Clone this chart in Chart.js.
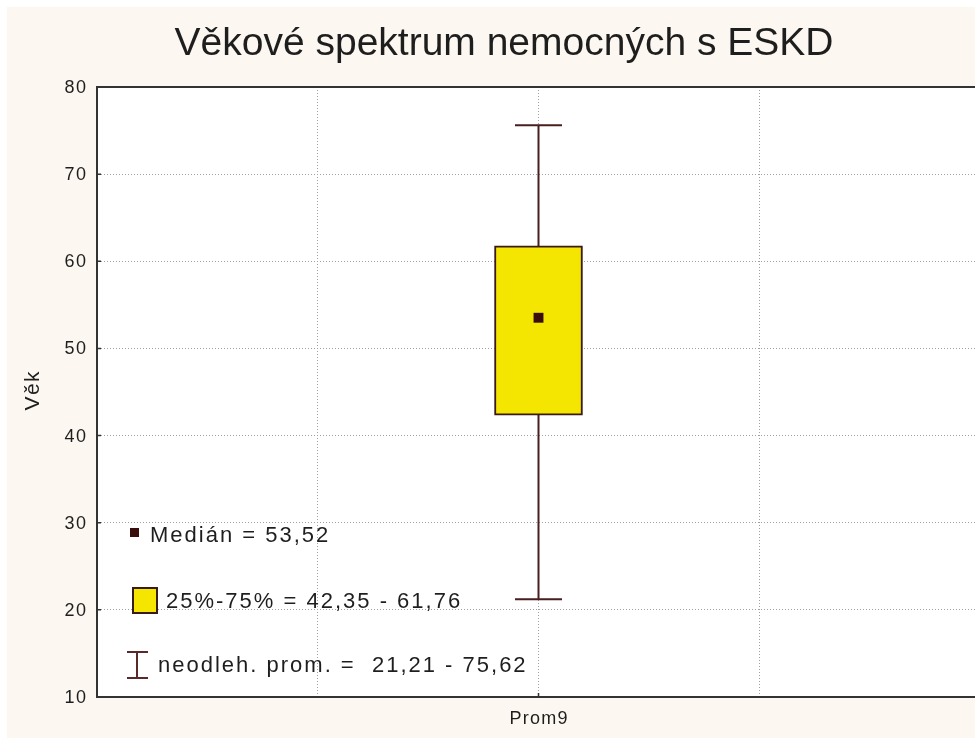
<!DOCTYPE html>
<html>
<head>
<meta charset="utf-8">
<title>Věkové spektrum nemocných s ESKD</title>
<script src="https://cdn.jsdelivr.net/npm/chart.js@4"></script>
<style>
  html, body { margin: 0; padding: 0; background: #fff; overflow: hidden; }
  canvas { display: block; }
</style>
</head>
<body>
<canvas id="boxChart" width="980" height="738"></canvas>
<script>
// statistiky věku (roky)
var categories = ['', '', 'Prom9', '', ''];
var medians    = [null, null, 53.52, null, null];
var q1         = [null, null, 42.35, null, null];
var q3         = [null, null, 61.76, null, null];
var lows       = [null, null, 21.21, null, null];
var highs      = [null, null, 75.62, null, null];
var yTicks     = [10, 20, 30, 40, 50, 60, 70, 80];

var titleText = 'Věkové spektrum nemocných s ESKD';
var yTitle = 'Věk';

var FONT = "'Liberation Sans', Arial, sans-serif";
var boxFill = '#f4e600';
var dark = '#3a1a14';
var textColor = '#1e1e1e';

function cz(v) { return v.toFixed(2).replace('.', ','); }

// text s rozšířeným prostrkáním (jako v původním grafu)
function spaced(c, txt, x, y, spacing, align) {
  c.letterSpacing = spacing + 'px';
  var w = c.measureText(txt).width - spacing;
  var sx = x;
  if (align === 'center') sx = x - w / 2;
  else if (align === 'right') sx = x - w;
  c.textAlign = 'left';
  c.fillText(txt, sx, y);
  c.letterSpacing = '0px';
}

var boxes = q1.map(function(v, i) { return v === null ? null : [v, q3[i]]; });
var idx = medians.findIndex(function(v) { return v !== null; });

// pozadí, rámeček, nadpis a popisky os
var frame = {
  id: 'frame',
  beforeDraw: function(chart) {
    var c = chart.ctx, a = chart.chartArea;
    c.save();
    c.fillStyle = '#fcf8f1';
    c.fillRect(7, 7, chart.width, chart.height);
    c.fillStyle = '#ffffff';
    c.fillRect(a.left, a.top, a.right - a.left, a.bottom - a.top);
    c.restore();
  },
  afterDraw: function(chart) {
    var c = chart.ctx, a = chart.chartArea;
    var xs = chart.scales.x, ys = chart.scales.y;
    c.save();
    c.strokeStyle = '#333';
    c.lineWidth = 2;
    c.beginPath();
    c.moveTo(a.left, a.top);
    c.lineTo(a.right, a.top);
    c.stroke();

    // krátké značky dovnitř
    c.lineWidth = 1.5;
    c.beginPath();
    ys.ticks.forEach(function(t) {
      var y = ys.getPixelForValue(t.value);
      c.moveTo(a.left, y); c.lineTo(a.left + 4, y);
    });
    categories.forEach(function(lbl, i) {
      if (!lbl) return;
      var x = xs.getPixelForValue(i);
      c.moveTo(x, a.bottom); c.lineTo(x, a.bottom - 4);
    });
    c.stroke();

    c.fillStyle = textColor;
    c.textBaseline = 'middle';

    c.font = '39px ' + FONT;
    spaced(c, titleText, 504, 44, 0, 'center');

    c.font = '18px ' + FONT;
    ys.ticks.forEach(function(t) {
      spaced(c, String(t.value), 86, ys.getPixelForValue(t.value) + 1, 1.5, 'right');
    });
    categories.forEach(function(lbl, i) {
      if (!lbl) return;
      spaced(c, lbl, xs.getPixelForValue(i), 719, 1.2, 'center');
    });

    c.save();
    c.translate(33, 391);
    c.rotate(-Math.PI / 2);
    c.font = '21px ' + FONT;
    spaced(c, yTitle, 0, 0, 1.5, 'center');
    c.restore();

    c.restore();
  }
};

// vousy (min-max) s příčkami
var whiskers = {
  id: 'whiskers',
  beforeDatasetsDraw: function(chart) {
    var c = chart.ctx, xs = chart.scales.x, ys = chart.scales.y;
    c.save();
    c.strokeStyle = '#4a1e1e';
    c.lineWidth = 2;
    lows.forEach(function(lo, i) {
      if (lo === null) return;
      var x = xs.getPixelForValue(i);
      var yl = ys.getPixelForValue(lo), yh = ys.getPixelForValue(highs[i]);
      c.beginPath();
      c.moveTo(x, yl); c.lineTo(x, yh);
      c.moveTo(x - 23.5, yl); c.lineTo(x + 23.5, yl);
      c.moveTo(x - 23.5, yh); c.lineTo(x + 23.5, yh);
      c.stroke();
    });
    c.restore();
  }
};

// popisky statistik v ploše grafu
var statLegend = {
  id: 'statLegend',
  afterDraw: function(chart) {
    var c = chart.ctx, a = chart.chartArea;
    var x0 = a.left;
    c.save();
    c.font = '22px ' + FONT;
    c.textBaseline = 'middle';

    // medián
    c.fillStyle = '#3a0d0d';
    c.fillRect(x0 + 33, 528, 9, 9);
    c.fillStyle = textColor;
    spaced(c, 'Medián = ' + cz(medians[idx]), x0 + 53, 536, 2, 'left');

    // kvartily
    c.fillStyle = boxFill;
    c.fillRect(x0 + 36, 588, 24, 25);
    c.strokeStyle = dark;
    c.lineWidth = 2;
    c.strokeRect(x0 + 36, 588, 24, 25);
    c.fillStyle = textColor;
    spaced(c, '25%-75% = ' + cz(q1[idx]) + ' - ' + cz(q3[idx]), x0 + 69, 602, 2, 'left');

    // rozsah
    c.strokeStyle = '#5a2a2a';
    c.lineWidth = 2;
    c.beginPath();
    c.moveTo(x0 + 40, 652); c.lineTo(x0 + 40, 678);
    c.moveTo(x0 + 30, 652); c.lineTo(x0 + 51, 652);
    c.moveTo(x0 + 30, 678); c.lineTo(x0 + 51, 678);
    c.stroke();
    spaced(c, 'neodleh. prom. =  ' + cz(lows[idx]) + ' - ' + cz(highs[idx]), x0 + 61, 666, 2, 'left');
    c.restore();
  }
};

new Chart(document.getElementById('boxChart'), {
  type: 'bar',
  data: {
    labels: categories,
    datasets: [
      {
        type: 'line',
        data: medians,
        showLine: false,
        pointStyle: 'rect',
        pointRadius: 7,
        pointBackgroundColor: '#3a0d0d',
        pointBorderWidth: 0,
        order: 0
      },
      {
        data: boxes,
        backgroundColor: boxFill,
        borderColor: dark,
        borderWidth: 2,
        borderSkipped: false,
        barThickness: 88,
        order: 1
      }
    ]
  },
  options: {
    responsive: false,
    animation: false,
    devicePixelRatio: 1,
    layout: { autoPadding: false, padding: { left: 0, right: 0, top: 87, bottom: 0 } },
    plugins: {
      legend: { display: false },
      tooltip: { enabled: false },
      title: { display: false }
    },
    scales: {
      x: {
        offset: false,
        grid: {
          offset: false,
          color: '#a0a0a0',
          drawTicks: false
        },
        border: { color: '#333', width: 2, dash: [1, 2] },
        ticks: { display: false },
        afterFit: function(s) { s.height = 41; }
      },
      y: {
        min: 10,
        max: 80,
        afterBuildTicks: function(s) {
          s.ticks = yTicks.map(function(v) { return { value: v }; });
        },
        grid: {
          color: '#a0a0a0',
          drawTicks: false
        },
        border: { color: '#333', width: 2, dash: [1, 2] },
        ticks: { display: false },
        afterFit: function(s) { s.width = 97; }
      }
    }
  },
  plugins: [frame, whiskers, statLegend]
});
</script>
</body>
</html>
